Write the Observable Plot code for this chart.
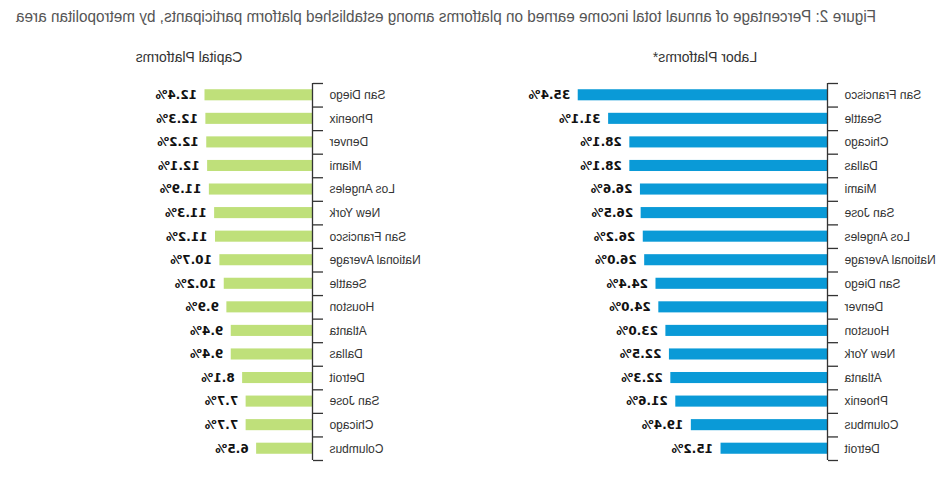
<!DOCTYPE html>
<html>
<head>
<meta charset="utf-8">
<script src="https://cdn.jsdelivr.net/npm/d3@7"></script>
<script src="https://cdn.jsdelivr.net/npm/@observablehq/plot@0.6"></script>
<style>
  html, body { margin: 0; padding: 0; background: #fff; overflow: hidden; }
  #page { position: relative; width: 948px; height: 478px; background: #fff;
          transform: scaleX(-1); transform-origin: 474px 239px; }
  .panel { position: absolute; top: 0; line-height: 0; }
  .panel svg { display: block; }
  .ptitle { position: absolute; top: 48px; font: 14px "Liberation Sans", Arial, sans-serif;
            color: #333; line-height: 18px; white-space: nowrap; transform: translateX(-50%); }
  #title { position: absolute; left: 72px; top: 7px; font: 16px "Liberation Sans", Arial, sans-serif;
           color: #555; line-height: 20px; white-space: nowrap; transform-origin: 0 0; }
</style>
</head>
<body>
<div id="page">
  <div id="title">Figure 2: Percentage of annual total income earned on platforms among established platform participants, by metropolitan area</div>
  <div class="ptitle" style="left:243px">Labor Platforms*</div>
  <div class="ptitle" style="left:759px">Capital Platforms</div>
  <div id="labor" class="panel" style="left:0px"></div>
  <div id="capital" class="panel" style="left:474px"></div>
</div>
<script>
const laborCities = ["San Francisco","Seattle","Chicago","Dallas","Miami","San Jose","Los Angeles","National Average","San Diego","Denver","Houston","New York","Atlanta","Phoenix","Columbus","Detroit"];
const laborValues = [35.4,31.1,28.1,28.1,26.6,26.5,26.2,26.0,24.4,24.0,23.0,22.5,22.3,21.6,19.4,15.2];
const capitalCities = ["San Diego","Phoenix","Denver","Miami","Los Angeles","New York","San Francisco","National Average","Seattle","Houston","Atlanta","Dallas","Detroit","San Jose","Chicago","Columbus"];
const capitalValues = [12.4,12.3,12.2,12.1,11.9,11.3,11.2,10.7,10.2,9.9,9.4,9.4,8.1,7.7,7.7,6.5];

// fit title to its measured width in the reference
const title = document.getElementById("title");
const tw = title.getBoundingClientRect().width;
title.style.transform = `scaleX(${860 / tw})`;

function panel(cities, values, color, opts) {
  const data = cities.map((c, i) => ({city: c, value: values[i]}));
  const W = 474, H = 478, mt = 83, mb = 18;
  const step = (H - mt - mb) / cities.length;
  const range = opts.domainMax * opts.px;
  const tickLen = 10 / opts.px;
  const last = data[data.length - 1];
  return Plot.plot({
    width: W, height: H,
    marginTop: mt, marginBottom: mb,
    marginLeft: opts.marginLeft, marginRight: W - opts.marginLeft - range,
    style: {fontSize: "12px", fontFamily: "Liberation Sans, Arial, sans-serif", color: "#333", background: "transparent", overflow: "visible"},
    x: {domain: [0, opts.domainMax], axis: null},
    y: {domain: cities, paddingInner: 0.53, paddingOuter: 0.265, round: false, axis: "left", tickSize: 0, tickPadding: 17, label: null},
    marks: [
      Plot.barX(data, {x: "value", y: "city", fill: color}),
      Plot.text(data, {x: "value", y: "city", text: d => d.value.toFixed(1) + "%", textAnchor: "start", dx: 7,
        fontFamily: "DejaVu Sans, sans-serif", fontWeight: "bold", fontSize: 12, fill: "#111"}),
      Plot.ruleX([0], {stroke: "#333", strokeWidth: 1.3}),
      Plot.ruleY(data, {y: "city", x1: -tickLen, x2: 0, dy: -step / 2, stroke: "#333", strokeWidth: 1.3}),
      Plot.ruleY([last], {y: "city", x1: -tickLen, x2: 0, dy: step / 2, stroke: "#333", strokeWidth: 1.3})
    ]
  });
}

document.getElementById("labor").append(panel(laborCities, laborValues, "#0a9ad7", {marginLeft: 120, px: 7.07, domainMax: 40}));
document.getElementById("capital").append(panel(capitalCities, capitalValues, "#bfe07a", {marginLeft: 161, px: 8.75, domainMax: 20}));
</script>
</body>
</html>
